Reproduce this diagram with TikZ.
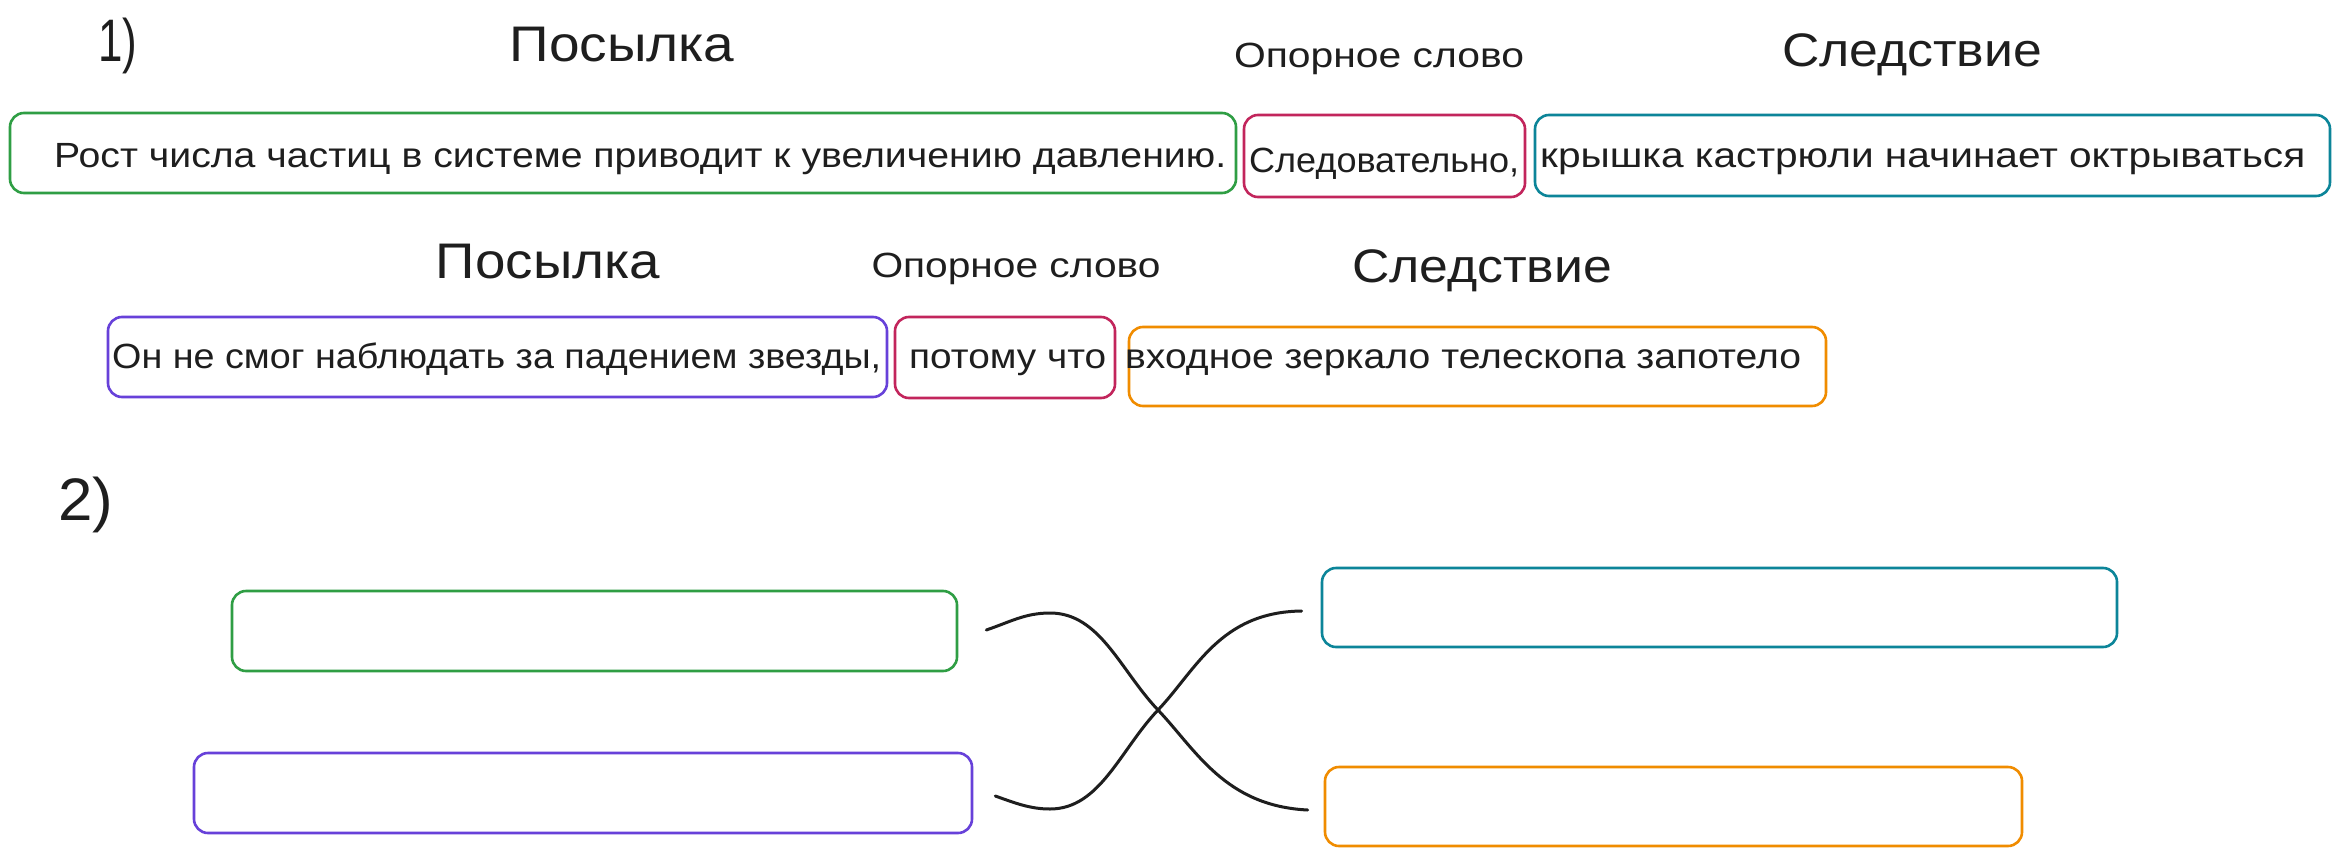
\documentclass[tikz,border=0pt]{standalone}
\usepackage{fontspec}
\usepackage{graphicx}
\setmainfont{Liberation Sans}
\usetikzlibrary{calc}
\definecolor{exgreen}{HTML}{2F9E44}
\definecolor{exred}{HTML}{C2255C}
\definecolor{exteal}{HTML}{0C8599}
\definecolor{expurple}{HTML}{6741D9}
\definecolor{exorange}{HTML}{F08C00}
\definecolor{ink}{HTML}{1E1E1E}
\newcommand\fitw[2]{\resizebox{#1pt}{\height}{#2}}
\tikzset{
  bx/.style={draw=#1, line width=2.6pt, rounded corners=14pt, inner sep=0pt},
  txt/.style={inner sep=0pt, text=ink, anchor=base west, font=\fontsize{35}{40}\selectfont},
  hdbig/.style={inner sep=0pt, text=ink, anchor=base, font=\fontsize{50}{56}\selectfont},
  hdmid/.style={inner sep=0pt, text=ink, anchor=base, font=\fontsize{47}{52}\selectfont},
  hdsmall/.style={inner sep=0pt, text=ink, anchor=base, font=\fontsize{35}{40}\selectfont},
  num/.style={inner sep=0pt, text=ink, anchor=base, font=\fontsize{60}{66}\selectfont},
  link/.style={draw=ink, line width=3pt, line cap=round}
}
\begin{document}
\begin{tikzpicture}[x=1pt,y=-1pt]
\useasboundingbox[fill=white] (0,0) rectangle (2341,856);

% labels "1)" and "2)"
\node[num] (n1) at (118,62) {\fitw{39}{1)}};
\node[num] (n2) at (86,520) {\fitw{55}{2)}};

% headings row 1
\node[hdbig] (h1p) at (622,62) {\fitw{225}{Посылка}};
\node[hdsmall] (h1o) at (1379,68) {\fitw{290}{Опорное слово}};
\node[hdmid] (h1s) at (1912,67) {\fitw{260}{Следствие}};

% boxes row 1
\node[bx=exgreen, minimum width=1226pt, minimum height=80pt] (b1p) at (623,153) {};
\node[bx=exred, minimum width=281pt, minimum height=82pt] (b1o) at (1384.5,156) {};
\node[bx=exteal, minimum width=795pt, minimum height=81pt] (b1s) at (1932.5,155.5) {};

\node[txt] (t1p) at (54,167) {\fitw{1172}{Рост числа частиц в системе приводит к увеличению давлению.}};
\node[txt] (t1o) at (1249,172) {\fitw{270}{Следовательно,}};
\node[txt] (t1s) at (1540,167) {\fitw{765}{крышка кастрюли начинает октрываться}};

% headings row 2
\node[hdbig] (h2p) at (548,278) {\fitw{224}{Посылка}};
\node[hdsmall] (h2o) at (1016,277) {\fitw{289}{Опорное слово}};
\node[hdmid] (h2s) at (1482,282) {\fitw{260}{Следствие}};

% boxes row 2
\node[bx=expurple, minimum width=779pt, minimum height=80pt] (b2p) at (497.5,357) {};
\node[bx=exred, minimum width=220pt, minimum height=81pt] (b2o) at (1005,357.5) {};
\node[bx=exorange, minimum width=697pt, minimum height=79pt] (b2s) at (1477.5,366.5) {};

\node[txt] (t2p) at (112,368) {\fitw{769}{Он не смог наблюдать за падением звезды,}};
\node[txt] (t2o) at (909,368) {\fitw{197}{потому что}};
\node[txt] (t2s) at (1125,368) {\fitw{676}{входное зеркало телескопа запотело}};

% part 2 empty boxes
\node[bx=exgreen, minimum width=725pt, minimum height=80pt] (g2) at (594.5,631) {};
\node[bx=expurple, minimum width=778pt, minimum height=80pt] (p2) at (583,793) {};
\node[bx=exteal, minimum width=795pt, minimum height=79pt] (c2) at (1719.5,607.5) {};
\node[bx=exorange, minimum width=697pt, minimum height=79pt] (o2) at (1673.5,806.5) {};

% connectors
\coordinate (a1) at ($(g2.east)+(28,-1)$);
\coordinate (e1) at ($(o2.west)+(-16,3.5)$);
\coordinate (a2) at ($(p2.east)+(22,3)$);
\coordinate (e2) at ($(c2.west)+(-19,3.5)$);

\draw[link] (a1) .. controls (1010,622) and (1025,613) .. (1050,613)
  .. controls (1100,613) and (1120,670) .. (1158,710)
  .. controls (1196,750) and (1225,806) .. (e1);
\draw[link] (a2) .. controls (1015,803) and (1030,809) .. (1050,809)
  .. controls (1100,809) and (1120,750) .. (1158,710)
  .. controls (1196,670) and (1220,612) .. (e2);
\end{tikzpicture}
\end{document}
